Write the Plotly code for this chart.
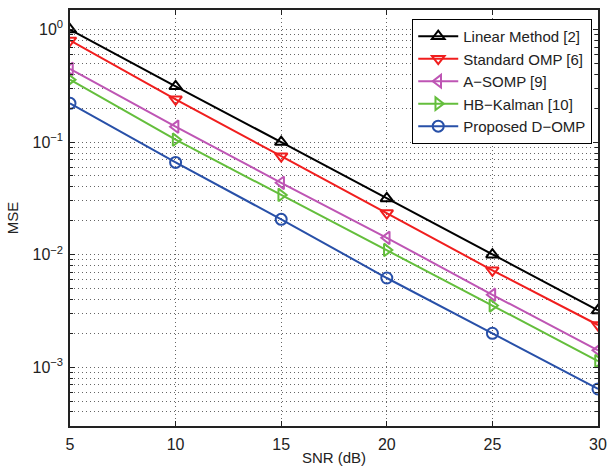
import plotly.graph_objects as go
import numpy as np

snr = [5, 10, 15, 20, 25, 30]
linear_method = [1.0, 0.313, 0.100, 0.0316, 0.0100, 0.00319]
standard_omp = [0.80, 0.240, 0.075, 0.0234, 0.00726, 0.00237]
a_somp = [0.447, 0.137, 0.0435, 0.0141, 0.0044, 0.00141]
hb_kalman = [0.359, 0.105, 0.0339, 0.0110, 0.00353, 0.00113]
proposed = [0.221, 0.066, 0.0206, 0.0062, 0.0020, 0.00064]

names = ["Linear Method [2]", "Standard OMP [6]", "A\u2212SOMP [9]", "HB\u2212Kalman [10]", "Proposed D\u2212OMP"]
colors = ["#000000", "#F01E1E", "#BE55B4", "#64BE3C", "#2850A8"]
symbols = ["triangle-up-open", "triangle-down-open", "triangle-left-open", "triangle-right-open", "circle-open"]
series = [linear_method, standard_omp, a_somp, hb_kalman, proposed]

x_ticks = [5, 10, 15, 20, 25, 30]
y_tickvals = [1e-3, 1e-2, 1e-1, 1e0]
y_ticktext = ["10<sup>\u22123</sup>", "10<sup>\u22122</sup>", "10<sup>\u22121</sup>", "10<sup>0</sup>"]
y_minor = [m * 10.0 ** e for e in range(-4, 1) for m in range(2, 10)]

fig = go.Figure()
for name, col, sym, vals in zip(names, colors, symbols, series):
    fig.add_trace(go.Scatter(
        x=snr, y=vals, name=name, mode="lines+markers",
        line=dict(color=col, width=2),
        marker=dict(symbol=sym, size=11, color=col, line=dict(color=col, width=2)),
    ))

grid_col = "#666666"
fig.update_layout(
    width=615, height=472,
    margin=dict(l=70, r=14, t=8, b=40),
    paper_bgcolor="white", plot_bgcolor="white",
    font=dict(family="Liberation Sans, Arial, sans-serif", size=15, color="#222222"),
    showlegend=True,
    legend=dict(
        x=0.9887, y=0.979, xanchor="right", yanchor="top",
        bgcolor="white", bordercolor="black", borderwidth=1.2,
        font=dict(size=15, color="#222222"),
        tracegroupgap=0, itemwidth=40,
    ),
    xaxis=dict(
        range=[5, 30], tickvals=x_ticks,
        tickfont=dict(size=16), ticklabelstandoff=3,
        showline=True, linecolor="#222222", linewidth=1.5, mirror="ticks",
        ticks="inside", ticklen=5, tickcolor="#222222",
        showgrid=True, gridcolor=grid_col, griddash="1px,3px", gridwidth=1,
        zeroline=False,
        title=dict(text="SNR (dB)", standoff=1, font=dict(size=15)),
    ),
    yaxis=dict(
        type="log", range=[np.log10(3e-4), 0.174],
        tickvals=y_tickvals, ticktext=y_ticktext,
        tickfont=dict(size=16), ticklabelstandoff=2,
        showline=True, linecolor="#222222", linewidth=1.5, mirror="ticks",
        ticks="inside", ticklen=5, tickcolor="#222222",
        showgrid=True, gridcolor=grid_col, griddash="1px,3px", gridwidth=1,
        zeroline=False,
        minor=dict(tickmode="array", tickvals=y_minor, ticks="inside", ticklen=3,
                   tickcolor="#222222", showgrid=True, gridcolor=grid_col,
                   griddash="1px,3px", gridwidth=1),
        title=dict(text="MSE", standoff=10, font=dict(size=15)),
    ),
)

fig.write_html("out.html", config={"displayModeBar": False},
               post_script="document.body.style.margin='0';document.body.style.overflow='hidden';")
